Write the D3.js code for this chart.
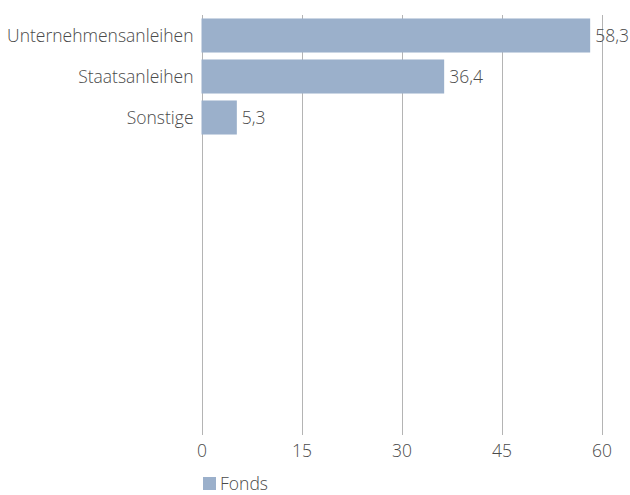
<!DOCTYPE html>
<html>
<head>
<meta charset="utf-8">
<script src="https://cdn.jsdelivr.net/npm/d3@7"></script>
<style>
  body { margin: 0; background: #fff; }
  svg text { font-family: "Open Sans", sans-serif; font-weight: 300; fill: #4a4a4a; }
</style>
</head>
<body>
<div id="chart"></div>
<script>
  const categories = ['Unternehmensanleihen', 'Staatsanleihen', 'Sonstige'];
  const fondsValues = [58.3, 36.4, 5.3];
  const xTicks = [0, 15, 30, 45, 60];
  const seriesName = 'Fonds';

  const width = 630, height = 495;
  const plotLeft = 201.5, plotRight = 601.5, plotTop = 15, plotBottom = 435;
  const barColor = '#9bb0cb';
  const fontSize = '17.5px';

  const svg = d3.select('#chart')
    .append('svg')
    .attr('width', width)
    .attr('height', height);

  const x = d3.scaleLinear()
    .domain([0, 60])
    .range([plotLeft, plotRight]);

  const y = d3.scaleBand()
    .domain(categories)
    .range([plotTop, plotTop + 41 * categories.length])
    .paddingInner(0.17)
    .paddingOuter(0.085);

  // vertical gridlines
  svg.append('g')
    .selectAll('line')
    .data(xTicks)
    .enter()
    .append('line')
    .attr('x1', d => Math.round(x(d)) + 0.5)
    .attr('x2', d => Math.round(x(d)) + 0.5)
    .attr('y1', plotTop)
    .attr('y2', plotBottom)
    .attr('stroke', '#b4b4b4')
    .attr('stroke-width', 1);

  // bars
  svg.append('g')
    .selectAll('rect')
    .data(categories)
    .enter()
    .append('rect')
    .attr('x', x(0))
    .attr('y', d => y(d))
    .attr('width', (d, i) => x(fondsValues[i]) - x(0))
    .attr('height', y.bandwidth())
    .attr('fill', barColor);

  // value labels
  svg.append('g')
    .selectAll('text')
    .data(categories)
    .enter()
    .append('text')
    .attr('x', (d, i) => x(fondsValues[i]) + 5)
    .attr('y', d => y(d) + y.bandwidth() / 2)
    .attr('dy', '0.35em')
    .style('font-size', fontSize)
    .text((d, i) => String(fondsValues[i]).replace('.', ','));

  // category labels
  svg.append('g')
    .selectAll('text')
    .data(categories)
    .enter()
    .append('text')
    .attr('x', plotLeft - 8)
    .attr('y', d => y(d) + y.bandwidth() / 2)
    .attr('dy', '0.35em')
    .attr('text-anchor', 'end')
    .style('font-size', fontSize)
    .text(d => d);

  // x axis
  const xAxis = svg.append('g')
    .attr('transform', `translate(0,${plotBottom})`)
    .call(d3.axisBottom(x).tickValues(xTicks).tickSize(0).tickPadding(10));
  xAxis.select('.domain').remove();
  xAxis.selectAll('text')
    .style('font-size', fontSize)
    .attr('fill', '#4a4a4a');

  // legend
  const legend = svg.append('g')
    .attr('transform', 'translate(203,477)');
  legend.append('rect')
    .attr('width', 13)
    .attr('height', 13)
    .attr('fill', barColor);
  legend.append('text')
    .attr('x', 17)
    .attr('y', 7)
    .attr('dy', '0.35em')
    .style('font-size', fontSize)
    .text(seriesName);
</script>
</body>
</html>
